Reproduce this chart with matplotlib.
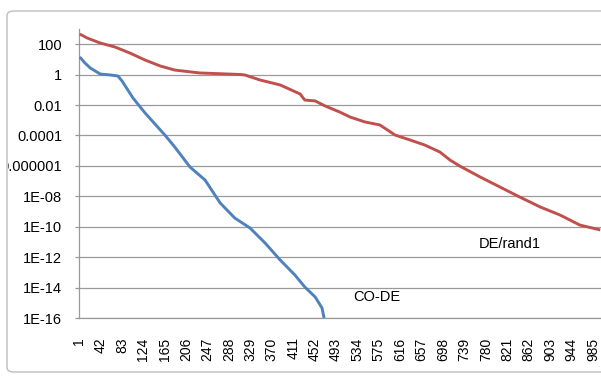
import matplotlib
matplotlib.use("Agg")
import matplotlib.pyplot as plt
from matplotlib.patches import FancyBboxPatch
from matplotlib.transforms import Bbox, TransformedBbox

# ── Data ──────────────────────────────────────────────────────────
# DE/rand1: iteration -> value
de_iter = [2, 16, 41, 69, 98, 127, 156, 184, 232, 309, 318, 347, 386, 424,
           433, 453, 472, 500, 520, 548, 577, 606, 635, 663, 692, 711, 730,
           769, 807, 845, 884, 922, 960, 999]
de_log = [2.67, 2.41, 2.08, 1.82, 1.42, 0.96, 0.57, 0.30, 0.11, 0.01, -0.02,
          -0.35, -0.68, -1.27, -1.67, -1.73, -2.06, -2.46, -2.79, -3.11,
          -3.31, -3.97, -4.30, -4.63, -5.09, -5.61, -6.01, -6.73, -7.39,
          -8.05, -8.70, -9.23, -9.89, -10.21]

# CO-DE
co_iter = [2, 12, 22, 41, 60, 75, 83, 104, 127, 165, 184, 213, 242, 271,
           299, 328, 357, 386, 414, 433, 453, 466, 470]
co_log = [1.16, 0.76, 0.44, 0.04, -0.02, -0.09, -0.42, -1.54, -2.52, -3.97,
          -4.76, -6.07, -6.93, -8.44, -9.43, -10.08, -11.07, -12.19, -13.17,
          -13.96, -14.62, -15.34, -16.0]

x_ticks = list(range(1, 1000, 41))
y_ticks = [1e2, 1, 1e-2, 1e-4, 1e-6, 1e-8, 1e-10, 1e-12, 1e-14, 1e-16]
y_labels = ["100", "1", "0.01", "0.0001", "0.000001", "1E-08", "1E-10",
            "1E-12", "1E-14", "1E-16"]

RED = "#C0504D"
BLUE = "#4F81BD"
GRID = "#9A9A9A"

# ── Figure ────────────────────────────────────────────────────────
W, H = 601, 376
plt.rcParams["font.family"] = ["Liberation Sans", "DejaVu Sans"]
fig = plt.figure(figsize=(W / 100, H / 100), dpi=100)

# chart frame (rounded, runs off the right edge)
frame = FancyBboxPatch((7 / W, 1 - 372 / H), (W + 20 - 7) / W, (372 - 11) / H,
                       boxstyle="round,pad=0,rounding_size=0.012",
                       transform=fig.transFigure, facecolor="white",
                       edgecolor="#BDBDBD", linewidth=1.0, zorder=-5)
fig.patches.append(frame)

ax = fig.add_axes([79 / W, 1 - 318 / H, (W - 79) / W, (318 - 29) / H])
ax.set_facecolor("none")

de_vals = [10 ** v for v in de_log]
co_vals = [10 ** v for v in co_log]
ax.plot(de_iter, de_vals, color=RED, linewidth=2.1, solid_capstyle="butt",
        zorder=3)
ax.plot(co_iter, co_vals, color=BLUE, linewidth=2.1, solid_capstyle="butt",
        zorder=3)

ax.set_yscale("log")
ax.set_ylim(1e-16, 1e3)
ax.set_xlim(0.5, 1000.5)

ax.set_yticks(y_ticks)
ax.set_yticklabels(y_labels)
ax.minorticks_off()
ax.set_xticks(x_ticks)
ax.set_xticklabels([str(t) for t in x_ticks], rotation=90, va="top")

ax.tick_params(axis="y", length=3, width=0.9, color=GRID, pad=9,
               labelsize=10.5)
ax.tick_params(axis="x", length=0, pad=14, labelsize=10)

ax.grid(axis="y", color=GRID, linewidth=0.9)
ax.set_axisbelow(True)
for side in ["top", "right"]:
    ax.spines[side].set_visible(False)
ax.spines["left"].set_color(GRID)
ax.spines["left"].set_linewidth(0.9)
ax.spines["bottom"].set_color(GRID)
ax.spines["bottom"].set_linewidth(0.9)

# labels are cut by the chart frame on the left
clip = TransformedBbox(Bbox([[8 / W, 0], [1, 1]]), fig.transFigure)
for lbl in ax.get_yticklabels():
    lbl.set_clip_box(clip)
    lbl.set_clip_on(True)

# series names
fig.text(479 / W, 1 - 244 / H, "DE/rand1", fontsize=10.5, va="center",
         ha="left")
fig.text(353 / W, 1 - 297 / H, "CO-DE", fontsize=10.5, va="center", ha="left")

fig.savefig("out.png", dpi=100)
